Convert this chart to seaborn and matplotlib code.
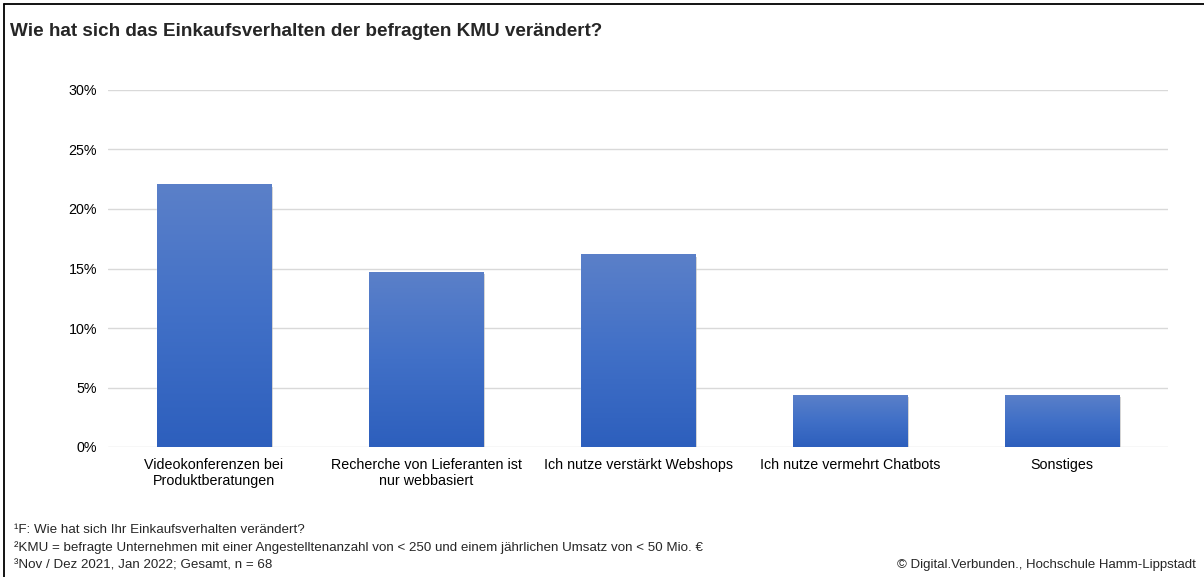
import numpy as np
import pandas as pd
import matplotlib
matplotlib.use("Agg")
import matplotlib.pyplot as plt
import matplotlib.patheffects as pe
from matplotlib.colors import LinearSegmentedColormap
from matplotlib.ticker import PercentFormatter, MultipleLocator
from matplotlib.lines import Line2D
import seaborn as sns

# Survey answers (share of respondents, n = 68)
categories = [
    "Videokonferenzen bei\nProduktberatungen",
    "Recherche von Lieferanten ist\nnur webbasiert",
    "Ich nutze verstärkt Webshops",
    "Ich nutze vermehrt Chatbots",
    "Sonstiges",
]
shares = [0.2206, 0.1471, 0.1618, 0.0441, 0.0441]

title = "Wie hat sich das Einkaufsverhalten der befragten KMU verändert?"
footnotes = [
    "¹F: Wie hat sich Ihr Einkaufsverhalten verändert?",
    "²KMU = befragte Unternehmen mit einer Angestelltenanzahl von < 250 und einem jährlichen Umsatz von < 50 Mio. €",
    "³Nov / Dez 2021, Jan 2022; Gesamt, n = 68",
]
source = "© Digital.Verbunden., Hochschule Hamm-Lippstadt"

sns.set_theme(style="white")
plt.rcParams["font.family"] = ["Liberation Sans", "DejaVu Sans"]

df = pd.DataFrame({"Antwort": categories, "Anteil": shares})

fig = plt.figure(figsize=(12.04, 5.77), dpi=100)
ax = fig.add_axes([108 / 1204, 1 - 447 / 577, (1168 - 108) / 1204, (447 - 90) / 577])

sns.barplot(data=df, x="Antwort", y="Anteil", color="#3f6cc4", width=0.54,
            ax=ax, zorder=3, saturation=1)

ax.set_ylim(0, 0.30)
ax.set_xlim(-0.5, len(categories) - 0.5)
ax.yaxis.set_major_locator(MultipleLocator(0.05))
ax.yaxis.set_major_formatter(PercentFormatter(1.0, decimals=0))
ax.set_xlabel("")
ax.set_ylabel("")
ax.grid(axis="y", color="#d9d9d9", linewidth=1.0, zorder=0)
for s in ax.spines.values():
    s.set_visible(False)
ax.tick_params(axis="both", length=0, labelsize=10.3, colors="#000000")
ax.tick_params(axis="y", pad=8)
ax.tick_params(axis="x", pad=8)

# vertical gradient fill inside each bar, plus a soft shadow
cmap = LinearSegmentedColormap.from_list("bar", ["#2d5fbd", "#4170c7", "#5b80c9"])
grad = np.linspace(0, 1, 256).reshape(-1, 1)
for patch in ax.patches:
    x0, y0 = patch.get_x(), patch.get_y()
    w, h = patch.get_width(), patch.get_height()
    patch.set_path_effects([pe.SimplePatchShadow(offset=(1.5, -1.5), shadow_rgbFace="#9a9a9a",
                                                 alpha=0.5), pe.Normal()])
    im = ax.imshow(grad, extent=(x0, x0 + w, y0, y0 + h), origin="lower",
                   cmap=cmap, aspect="auto", zorder=4, interpolation="bicubic")
    im.set_clip_path(patch)
ax.set_xlim(-0.5, len(categories) - 0.5)
ax.set_ylim(0, 0.30)

# frame lines along the left and top edge
fig.add_artist(Line2D([3.5 / 1204, 3.5 / 1204], [0, 1 - 3.5 / 577], color="black", lw=1.3))
fig.add_artist(Line2D([3.5 / 1204, 1], [1 - 3.5 / 577, 1 - 3.5 / 577], color="black", lw=1.3))

fig.text(10 / 1204, 1 - 32 / 577, title, fontsize=13.6, fontweight="bold", va="center", ha="left")

for i, line in enumerate(footnotes):
    fig.text(14 / 1204, 1 - (530 + i * 17.5) / 577, line, fontsize=9.6, va="center", ha="left")
fig.text(1196 / 1204, 1 - 565 / 577, source, fontsize=9.5, va="center", ha="right")

fig.savefig("out.png", dpi=100, facecolor="white")
